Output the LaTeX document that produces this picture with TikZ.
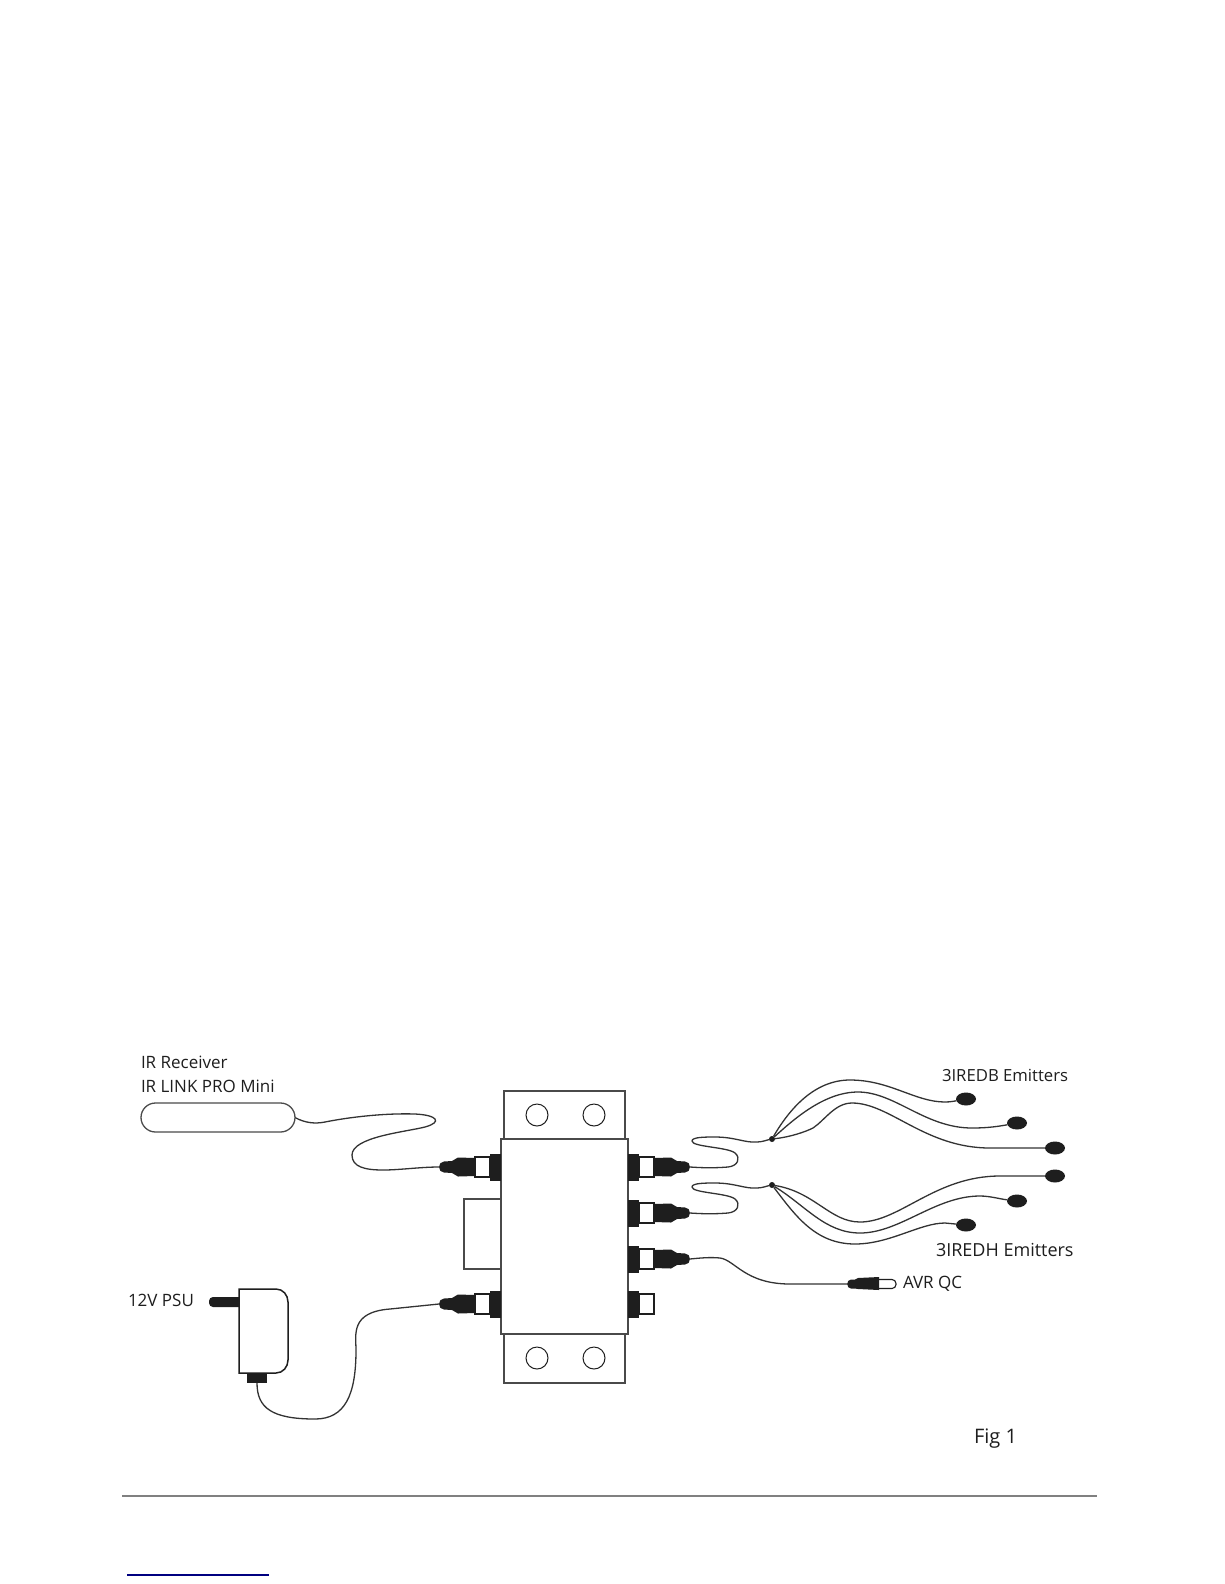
\documentclass[tikz,border=0pt]{standalone}
\usepackage{fontspec}
\setmainfont{Open Sans}
\usetikzlibrary{shapes.geometric,shapes.misc,backgrounds}
\definecolor{ink}{HTML}{1E1E1E}
\definecolor{edge}{HTML}{4A4A4A}
\definecolor{wire}{HTML}{333333}
\tikzset{
  box/.style={draw=edge,fill=white,line width=1.4pt,inner sep=0pt,outer sep=0pt},
  hole/.style={circle,draw=ink,fill=white,line width=1pt,minimum size=22pt,inner sep=0pt,outer sep=0pt},
  emitter/.style={ellipse,fill=ink,minimum width=20pt,minimum height=13pt,inner sep=0pt,outer sep=0pt},
  solder/.style={circle,fill=ink,minimum size=6pt,inner sep=0pt,outer sep=0pt},
  lbl/.style={anchor=base west,inner sep=0pt,outer sep=0pt,text=ink,font=\fontsize{17}{20}\selectfont},
  cable/.style={draw=wire,line width=1.3pt},
  pics/socket/.style={code={
    \fill[ink] (0,-13.5) rectangle (11,13.5);
    \draw[ink,fill=white,line width=1.1pt] (11,-10) rectangle (26,10);
  }},
  pics/plugged/.style={code={
    \fill[ink] (0,-13.5) rectangle (11,13.5);
    \draw[ink,fill=white,line width=1.1pt] (11,-10) rectangle (26,10);
    \fill[ink] (26,-9) -- (43,-9.5) -- (49,-6) -- (57,-5.5)
       .. controls (60,-5.5) and (62,-3) .. (62,0)
       .. controls (62,3) and (60,5.5) .. (57,5.5)
       -- (49,6) -- (43,9.5) -- (26,9) -- cycle;
    \coordinate (-tip) at (62,0);
  }},
}
\begin{document}
\begin{tikzpicture}[x=1pt,y=-1pt]
\useasboundingbox (0,0) rectangle (1224,1584);

% unit
\node[box,minimum width=37pt,minimum height=70pt] (side) at (482.5,1234) {};
\node[box,minimum width=121pt,minimum height=48pt] (brtop) at (564.5,1115) {};
\node[box,minimum width=121pt,minimum height=49pt] (brbot) at (564.5,1358.5) {};
\node[box,minimum width=127pt,minimum height=195pt] (unit) at (564.5,1236.5) {};
\node[hole] (h1) at (537,1115) {};
\node[hole] (h2) at (594,1115) {};
\node[hole] (h3) at (537,1358) {};
\node[hole] (h4) at (594,1358) {};

% connectors on the unit
\pic[xscale=-1] (pl) at (501,1167) {plugged};
\pic[xscale=-1] (pp) at (501,1304) {plugged};
\pic (ra) at (628,1167) {plugged};
\pic (rb) at (628,1213) {plugged};
\pic (rc) at (628,1259) {plugged};
\pic (rd) at (628,1304) {socket};

% IR receiver
\node[rounded rectangle,draw=edge,fill=white,line width=1.3pt,minimum width=154pt,minimum height=29pt,inner sep=0pt,outer sep=0pt] (irrx) at (218,1117.5) {};

% PSU
\fill[ink,rounded corners=4pt] (209,1297) rectangle (245,1307);
\draw[ink,fill=white,line width=1.5pt] (239,1289) -- (276,1289)
   .. controls (283,1289) and (288,1295) .. (288,1302) -- (288,1360)
   .. controls (288,1367) and (283,1373) .. (276,1373) -- (239,1373) -- cycle;
\node[fill=ink,minimum width=20pt,minimum height=10pt,inner sep=0pt,outer sep=0pt] (psuout) at (257,1378) {};

% AVR QC plug
\draw[ink,fill=white,line width=1.1pt,rounded corners=4pt] (875,1279.5) rectangle (896,1288.5);
\fill[ink] (858,1278) -- (879,1277) -- (879,1290) -- (858,1289) -- (855,1288.5) -- (851,1288.5)
   .. controls (846,1288.5) and (846,1279.5) .. (851,1279.5) -- (855,1279.5) -- cycle;
\coordinate (avrtip) at (848,1284);

% emitters and junctions
\node[solder] (ja) at (772,1139) {};
\node[solder] (jb) at (772,1185) {};
\node[emitter] (e1) at (966,1099) {};
\node[emitter] (e2) at (1017,1123) {};
\node[emitter] (e3) at (1055,1148) {};
\node[emitter] (e4) at (1055,1176) {};
\node[emitter] (e5) at (1017,1201) {};
\node[emitter] (e6) at (966,1225) {};

% cables
\begin{pgfonlayer}{background}
\fill[white] (0,0) rectangle (1224,1584);
\draw[cable] (irrx.east) .. controls (305,1123) and (315,1124) .. (325,1122) .. controls (350,1117) and (385,1113) .. (415,1114) .. controls (437,1115) and (443,1122) .. (425,1127) .. controls (405,1132) and (352,1137) .. (352,1155) .. controls (352,1167) and (365,1170) .. (383,1170) .. controls (400,1170) and (420,1167) .. (pl-tip);
\draw[cable] (psuout.south) .. controls (257,1408) and (272,1419) .. (315,1419) .. controls (345,1419) and (356,1395) .. (356,1350) .. controls (356,1335) and (350,1312) .. (390,1309) -- (pp-tip);
\draw[cable] (ra-tip) .. controls (705,1168) and (715,1168) .. (728,1167) .. controls (738,1166) and (741,1158) .. (735,1153) .. controls (728,1147) and (692,1147) .. (692,1141) .. controls (692,1137) and (705,1137) .. (715,1137) .. controls (735,1137) and (745,1143) .. (757,1142) .. controls (762,1142) and (767,1140) .. (ja);
\draw[cable] (rb-tip) .. controls (705,1214) and (715,1214) .. (728,1213) .. controls (738,1212) and (741,1204) .. (735,1199) .. controls (728,1193) and (692,1193) .. (692,1187) .. controls (692,1183) and (705,1183) .. (715,1183) .. controls (735,1183) and (745,1189) .. (757,1188) .. controls (762,1188) and (767,1186) .. (jb);
\draw[cable] (rc-tip) .. controls (700,1258) and (710,1257) .. (720,1258) .. controls (735,1260) and (745,1284) .. (790,1284) -- (avrtip);
\draw[cable] (ja) .. controls (790,1108) and (815,1080) .. (850,1080) .. controls (890,1080) and (915,1102) .. (945,1102) .. controls (950,1102) and (955,1101) .. (e1);
\draw[cable] (ja) .. controls (795,1118) and (825,1092) .. (858,1092) .. controls (895,1092) and (925,1128) .. (972,1128) .. controls (985,1128) and (995,1127) .. (e2);
\draw[cable] (ja) .. controls (790,1137) and (805,1132) .. (813,1128) .. controls (825,1120) and (835,1103) .. (852,1103) .. controls (890,1103) and (925,1148) .. (990,1148) -- (e3);
\draw[cable] (jb) .. controls (815,1192) and (830,1222) .. (860,1222) .. controls (900,1222) and (935,1176) .. (1000,1176) -- (e4);
\draw[cable] (jb) .. controls (805,1205) and (825,1233) .. (860,1233) .. controls (900,1233) and (935,1196) .. (980,1196) .. controls (990,1196) and (1000,1199) .. (e5);
\draw[cable] (jb) .. controls (795,1215) and (815,1244) .. (855,1244) .. controls (890,1244) and (920,1223) .. (945,1223) -- (e6);
\end{pgfonlayer}

% labels
\node[lbl] (t1) at (141,1068) {IR Receiver};
\node[lbl] (t2) at (141,1092) {IR LINK PRO Mini};
\node[lbl] (t3) at (128,1306) {12V PSU};
\node[lbl,font=\fontsize{16.7}{20}\selectfont] (t4) at (942,1081) {3IREDB Emitters};
\node[lbl,font=\fontsize{18}{20}\selectfont] (t5) at (936,1256) {3IREDH Emitters};
\node[lbl] (t6) at (903,1288) {AVR QC};
\node[lbl,font=\fontsize{20}{22}\selectfont] (t7) at (974,1443) {Fig 1};

% page rule and link line
\coordinate (ruleL) at (122,1496);
\coordinate (ruleR) at (1097,1496);
\draw[gray,line width=1.5pt] (ruleL) -- (ruleR);
\coordinate (linkL) at (127,1575);
\coordinate (linkR) at (269,1575);
\draw[blue!50!black,line width=1.2pt] (linkL) -- (linkR);
\end{tikzpicture}
\end{document}
